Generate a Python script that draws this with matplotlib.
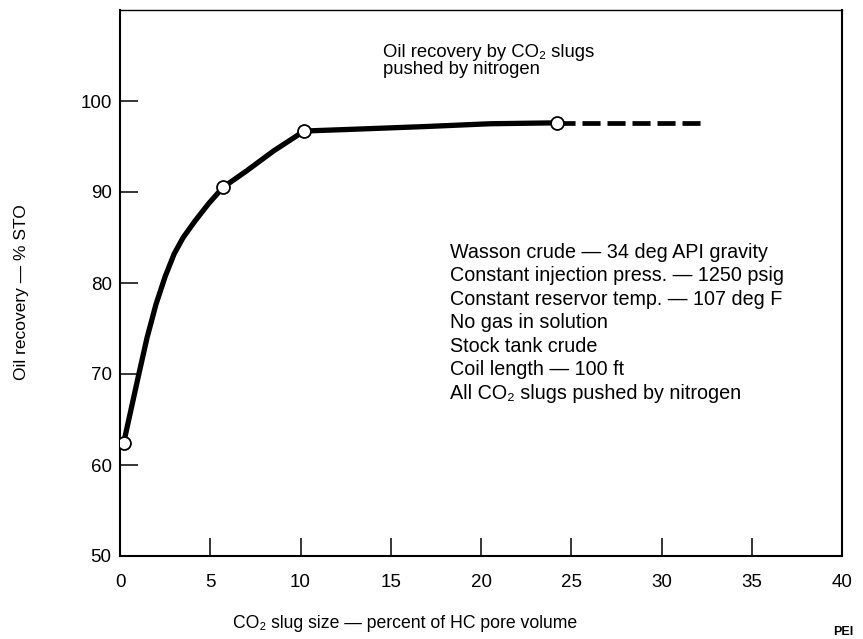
import matplotlib
matplotlib.use("Agg")
import matplotlib.pyplot as plt

FAM = ["Liberation Sans", "DejaVu Sans"]
plt.rcParams["font.family"] = FAM
plt.rcParams["lines.scale_dashes"] = False

# ---- data ----
curve_x = [0.2, 0.5, 1.0, 1.5, 2.0, 2.5, 3.0, 3.5, 4.15, 4.9, 5.7, 7.0, 8.5, 10.2, 13.0, 17.0, 20.5, 24.2]
curve_y = [62.4, 65.1, 69.6, 74.0, 77.7, 80.7, 83.2, 85.0, 86.8, 88.7, 90.5, 92.3, 94.5, 96.7, 96.9, 97.2, 97.5, 97.6]
point_x = [0.2, 5.7, 10.2, 24.2]
point_y = [62.4, 90.5, 96.7, 97.6]
extrap_x = [24.2, 32.3]
extrap_y = [97.6, 97.6]
x_ticks = [0, 5, 10, 15, 20, 25, 30, 35, 40]
y_ticks = [50, 60, 70, 80, 90, 100]

title_lines = ["Oil recovery by CO₂ slugs", "pushed by nitrogen"]
note_lines = [
    "Wasson crude — 34 deg API gravity",
    "Constant injection press. — 1250 psig",
    "Constant reservor temp. — 107 deg F",
    "No gas in solution",
    "Stock tank crude",
    "Coil length — 100 ft",
    "All CO₂ slugs pushed by nitrogen",
]

fig = plt.figure(figsize=(8.63, 6.39), dpi=100)
ax = fig.add_axes([120 / 863, 1 - 556 / 639, 722 / 863, 546 / 639])

ax.plot(curve_x, curve_y, color="black", lw=3.8, solid_capstyle="round",
        solid_joinstyle="round", zorder=3)
ax.plot(extrap_x, extrap_y, color="black", lw=3.4, linestyle=(0, (13, 5)),
        dash_capstyle="butt", zorder=3)
ax.plot(point_x, point_y, linestyle="none", marker="o", markersize=9.3,
        markerfacecolor="white", markeredgecolor="black", markeredgewidth=1.3, zorder=4)

ax.set_xlim(0, 40)
ax.set_ylim(50, 110)
ax.set_xticks(x_ticks)
ax.set_yticks(y_ticks)
ax.set_xticklabels([str(t) for t in x_ticks])
ax.set_yticklabels([str(t) for t in y_ticks])
ax.tick_params(axis="x", direction="in", length=13, width=1.1, pad=13, labelsize=13.5)
ax.tick_params(axis="y", direction="in", length=13, width=1.1, pad=6, labelsize=13.5)
for side, sp in ax.spines.items():
    sp.set_linewidth(1.5)
ax.spines["top"].set_linewidth(1.0)

ax.text(-0.136, 0.4835, "Oil recovery — % STO", rotation=90, ha="center", va="center",
        fontsize=12.5, transform=ax.transAxes, family=FAM)
ax.text(0.395, -0.123, "CO₂ slug size — percent of HC pore volume", ha="center", va="center",
        fontsize=12.7, transform=ax.transAxes, family=FAM)

for i, line in enumerate(title_lines):
    ax.text(0.364, 0.9145 - i * 0.0326, line, ha="left", va="baseline", fontsize=13.3,
            transform=ax.transAxes, family=FAM)
for i, line in enumerate(note_lines):
    ax.text(0.457, 0.5467 - i * 0.04304, line, ha="left", va="baseline", fontsize=14.2,
            transform=ax.transAxes, family=FAM)

fig.text(843 / 863, 1 - 632 / 639, "PEI", ha="center", va="center", fontsize=9,
         fontweight="bold", family=FAM)

fig.savefig("out.png", dpi=100)
